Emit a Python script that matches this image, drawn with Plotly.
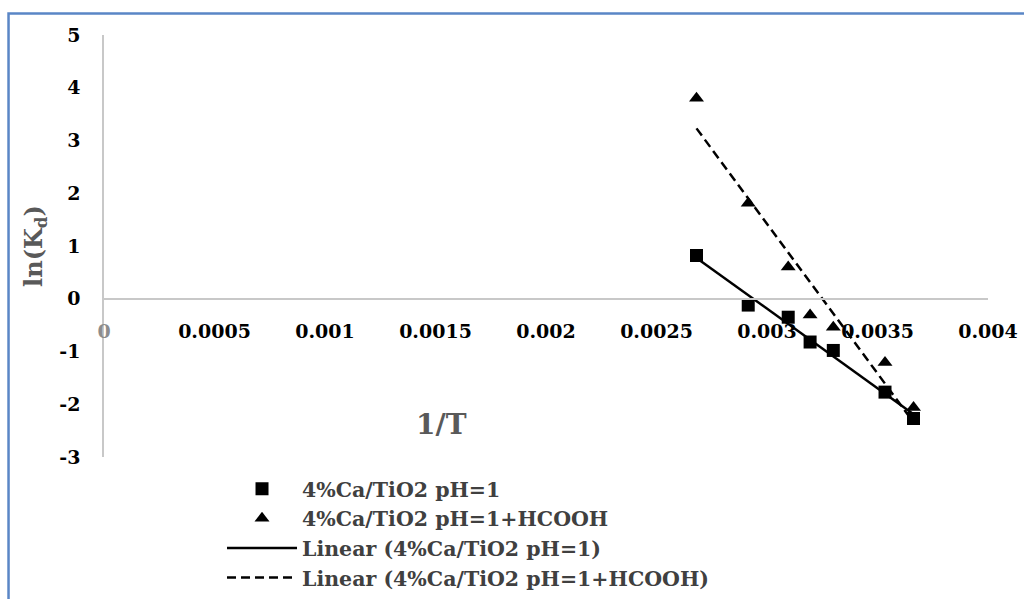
import numpy as np
import plotly.graph_objects as go

# ---- data ----
inv_T = [0.002681, 0.002915, 0.003096, 0.003195, 0.003300, 0.003534, 0.003663]
ln_kd_ph1 = [0.82, -0.12, -0.35, -0.82, -0.98, -1.77, -2.27]
ln_kd_ph1_hcooh = [3.80, 1.81, 0.60, -0.31, -0.54, -1.21, -2.06]

series_names = ["4%Ca/TiO2 pH=1", "4%Ca/TiO2 pH=1+HCOOH"]
fit_names = ["Linear (4%Ca/TiO2 pH=1)", "Linear (4%Ca/TiO2 pH=1+HCOOH)"]

x_tickvals = [0, 0.0005, 0.001, 0.0015, 0.002, 0.0025, 0.003, 0.0035, 0.004]
x_ticktext = ["<span style='color:#8c8c8c'>0</span>", "0.0005", "0.001", "0.0015",
              "0.002", "0.0025", "0.003", "0.0035", "0.004"]
y_tickvals = [-3, -2, -1, 0, 1, 2, 3, 4, 5]
y_ticktext = ["-3", "-2", "-1", "0", "1", "2", "3", "4", "5"]

FONT = "DejaVu Serif"

fig = go.Figure()

x_arr = np.array(inv_T)
fit_x = np.array([x_arr.min(), x_arr.max()])

symbols = ["square", "triangle-up"]
dashes = ["solid", "9px,5px"]
for i, ys in enumerate([ln_kd_ph1, ln_kd_ph1_hcooh]):
    fig.add_trace(go.Scatter(
        x=inv_T, y=ys, mode="markers", name=series_names[i],
        marker=dict(symbol=symbols[i], size=13, color="black"),
        legendgroup=f"g{i}", legendrank=i + 1,
    ))
for i, ys in enumerate([ln_kd_ph1, ln_kd_ph1_hcooh]):
    slope, intercept = np.polyfit(x_arr, np.array(ys), 1)
    fig.add_trace(go.Scatter(
        x=fit_x, y=slope * fit_x + intercept, mode="lines", name=fit_names[i],
        line=dict(color="black", width=2.5, dash=dashes[i]),
        legendgroup=f"l{i}", legendrank=i + 3,
    ))

fig.update_layout(
    width=1024, height=599,
    margin=dict(l=104, r=36, t=35, b=142, autoexpand=False),
    paper_bgcolor="white", plot_bgcolor="white",
    font=dict(family=FONT, color="black"),
    showlegend=True,
    legend=dict(
        x=0.1335, y=-0.028, xanchor="left", yanchor="top",
        font=dict(family=FONT, size=20.5, color="#404040", weight="bold"),
        itemwidth=70, tracegroupgap=0, traceorder="grouped",
        bgcolor="rgba(0,0,0,0)",
    ),
    xaxis=dict(
        range=[0, 0.004], tickvals=x_tickvals, ticktext=x_ticktext,
        showgrid=False, zeroline=False,
        showline=True, linecolor="#c8c8c8", linewidth=1.5,
        anchor="free", position=0.375,
        ticks="", ticklabelstandoff=16,
        tickfont=dict(family=FONT, size=19, color="black", weight="bold"),
    ),
    yaxis=dict(
        range=[-3, 5], tickvals=y_tickvals, ticktext=y_ticktext,
        showgrid=False, zeroline=False,
        showline=True, linecolor="#c8c8c8", linewidth=1.5,
        ticks="", ticklabelstandoff=18,
        tickfont=dict(family=FONT, size=19, color="black", weight="bold"),
        title=dict(text="ln(K<sub>d</sub>)", standoff=10,
                   font=dict(family=FONT, size=24, color="#595959", weight="bold")),
    ),
    annotations=[dict(
        text="1/T", xref="paper", yref="paper", x=0.382, y=0.076,
        xanchor="center", yanchor="middle", showarrow=False,
        font=dict(family=FONT, size=28, color="#595959", weight="bold"),
    )],
    shapes=[dict(
        type="rect", xref="paper", yref="paper",
        x0=-0.108, x1=1.3, y0=-0.6, y1=1.051,
        line=dict(color="#5a86c6", width=2.5), fillcolor="rgba(0,0,0,0)",
        layer="below",
    )],
)

fig.write_html("out.html")
